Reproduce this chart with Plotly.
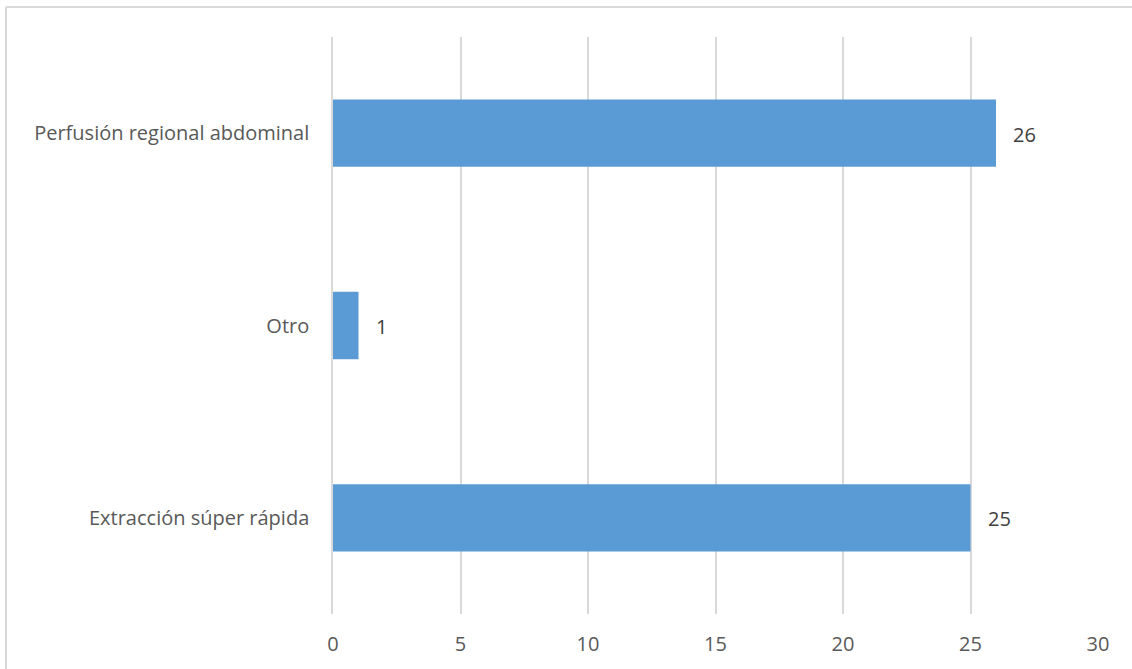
import plotly.graph_objects as go

categories = ["Extracción súper rápida", "Otro", "Perfusión regional abdominal"]
values = [25, 1, 26]
x_ticks = [0, 5, 10, 15, 20, 25, 30]

W, H = 1132, 669
L, R, T, B = 333, 34, 37, 55
FS = 20

fig = go.Figure()
fig.add_trace(go.Bar(
    y=categories, x=values, orientation="h",
    marker=dict(color="#5B9BD5", line=dict(width=0)),
    hoverinfo="skip",
))

for c, v in zip(categories, values):
    fig.add_annotation(x=v, y=c, text=str(v), showarrow=False,
                       xanchor="left", xshift=15, yshift=-1,
                       font=dict(family="Open Sans", size=FS, color="#404040"))

pw = W - L - R
ph = H - T - B
# chart border: left and top edges (the rest runs off the picture)
bx0 = (6 - L) / pw
bx1 = (W + 40 - L) / pw
by0 = (H - B - (H + 40)) / ph
by1 = (H - B - 7) / ph
border = dict(color="#d9d9d9", width=2)
fig.add_shape(type="line", xref="paper", yref="paper",
              x0=bx0, x1=bx0, y0=by0, y1=by1, line=border, layer="below")
fig.add_shape(type="line", xref="paper", yref="paper",
              x0=bx0, x1=bx1, y0=by1, y1=by1, line=border, layer="below")

fig.update_layout(
    width=W, height=H,
    margin=dict(l=L, r=R, t=T, b=B, autoexpand=False),
    paper_bgcolor="white", plot_bgcolor="white",
    bargap=0.65,
    showlegend=False,
    font=dict(family="Open Sans", size=FS, color="#595959"),
    xaxis=dict(range=[0, 30], tickvals=x_ticks, showgrid=True,
               gridcolor="#d9d9d9", gridwidth=1.5, zeroline=False,
               showline=False, ticks="", ticklabelstandoff=16,
               tickfont=dict(size=FS, color="#595959")),
    yaxis=dict(categoryorder="array", categoryarray=categories,
               showgrid=False, zeroline=False, showline=True,
               linecolor="#d9d9d9", linewidth=1.5, ticks="",
               ticklabelstandoff=18,
               tickfont=dict(size=FS, color="#595959")),
)

fig.write_html("out.html", config={"displayModeBar": False},
               post_script="document.body.style.margin='0';document.body.style.overflow='hidden';")
